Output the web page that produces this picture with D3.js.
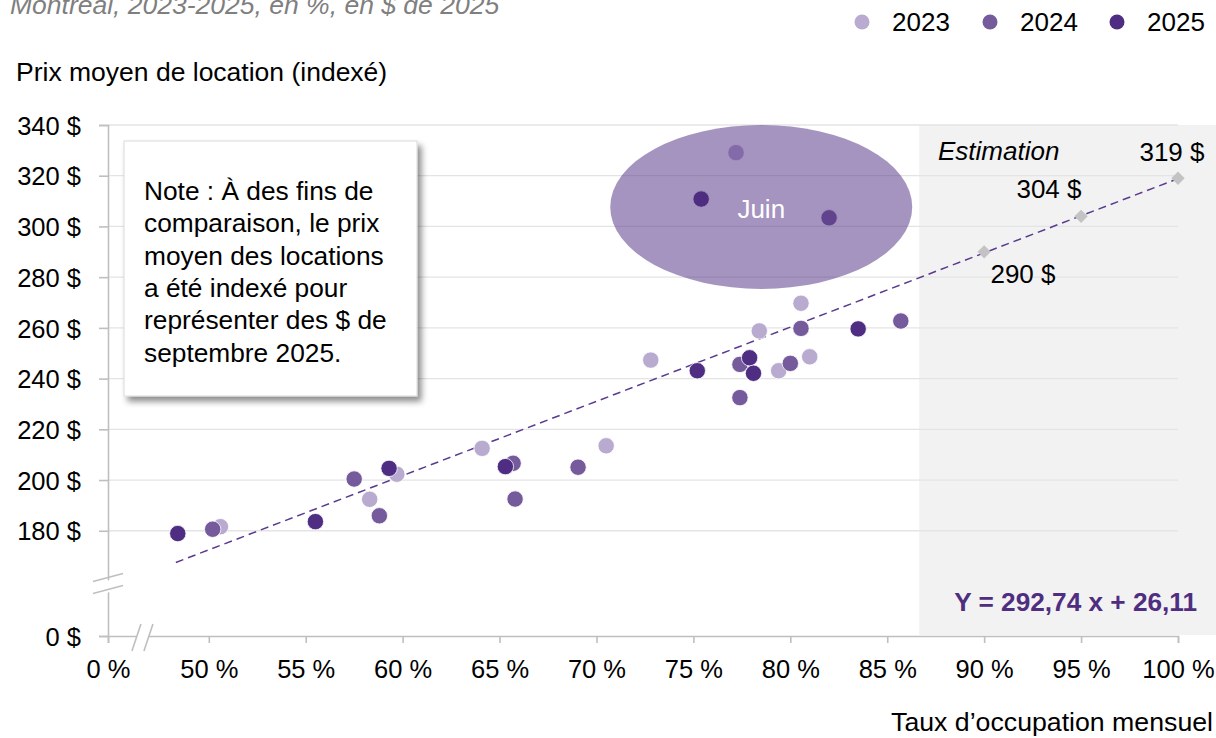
<!DOCTYPE html>
<html>
<head>
<meta charset="utf-8">
<script src="https://cdn.jsdelivr.net/npm/d3@7"></script>
<style>
  body { margin: 0; background: #fff; }
  svg { font-family: "Liberation Sans", Arial, sans-serif; }
</style>
</head>
<body>
<div id="graph"></div>
<script>
// data
const years = ["2023", "2024", "2025"];
const yearColors = ["#b9aad0", "#755a9c", "#4e2d82"];

// taux d'occupation (%) and prix moyen indexé ($), one pair per month
const occ2023 = [50.6, 58.3, 59.7, 64.1, 70.5, 72.8, 78.4, 79.4, 80.55, 81.0, 77.2];
const prix2023 = [181.6, 192.4, 202.3, 212.5, 213.5, 247.3, 258.8, 243.1, 269.7, 248.6, 329.1];
const occ2024 = [50.2, 57.5, 58.8, 65.7, 65.8, 69.05, 77.4, 77.4, 80.0, 80.55, 85.7, 82.0];
const prix2024 = [180.6, 200.4, 185.9, 206.6, 192.5, 205.05, 245.6, 232.5, 246.0, 259.8, 262.7, 303.4];
const occ2025 = [48.4, 55.5, 59.3, 65.3, 75.2, 77.9, 78.1, 83.5, 75.4];
const prix2025 = [178.9, 183.6, 204.6, 205.3, 243.1, 248.2, 242.1, 259.6, 310.8];

// estimations
const estOcc = [90, 95, 100];
const estPrix = [290, 304, 319];

// regression Y = 292,74 x + 26,11
const slope = 292.74, intercept = 26.11;
const lineStart = 0.483;

const xTicks = [0.5, 0.55, 0.6, 0.65, 0.7, 0.75, 0.8, 0.85, 0.9, 0.95, 1.0];
const yTicks = [180, 200, 220, 240, 260, 280, 300, 320, 340];

const noteLines = ["Note : À des fins de", "comparaison, le prix", "moyen des locations",
  "a été indexé pour", "représenter des $ de", "septembre 2025."];

const W = 1216, H = 738;
const svg = d3.select("#graph").append("svg")
  .attr("width", W).attr("height", H);

// scales (axis starts with a break labelled 0)
const xMin = 0.448, yMin = 138.5;
const x = d3.scaleLinear().domain([xMin, 1.0]).range([108, 1178]);
const y = d3.scaleLinear().domain([yMin, 340]).range([636, 125]);

// estimation band
svg.append("rect")
  .attr("x", x(0.8665)).attr("y", y(340))
  .attr("width", W - x(0.8665)).attr("height", y(yMin) - y(340) - 1)
  .attr("fill", "#f2f2f2");

// gridlines
svg.append("g").selectAll("line").data(yTicks).join("line")
  .attr("x1", x(xMin)).attr("x2", x(1.0))
  .attr("y1", d => y(d)).attr("y2", d => y(d))
  .attr("stroke", "#e4e4e4").attr("stroke-width", 1.3);

// axes
const axisColor = "#bfbfbf";
const xAxis = svg.append("g")
  .attr("transform", `translate(0,${y(yMin)})`)
  .call(d3.axisBottom(x).tickValues([xMin].concat(xTicks)).tickSize(7).tickPadding(17)
    .tickFormat(d => d === xMin ? "0 %" : Math.round(d * 100) + " %"));
const yAxis = svg.append("g")
  .attr("transform", `translate(${x(xMin)},0)`)
  .call(d3.axisLeft(y).tickValues([yMin].concat(yTicks)).tickSize(9).tickPadding(18)
    .tickFormat(d => d === yMin ? "0 $" : d + " $"));
[xAxis, yAxis].forEach(a => {
  a.select(".domain").attr("stroke", axisColor).attr("stroke-width", 1.6);
  a.selectAll(".tick line").attr("stroke", axisColor).attr("stroke-width", 1.6);
  a.selectAll(".tick text").attr("fill", "#000").style("font-size", "25.5px")
    .style("font-family", "'Liberation Sans', Arial, sans-serif");
});
yAxis.selectAll(".tick text").attr("dy", "0.36em");

// axis breaks
const bx = x(0.4655), by = y(158);
svg.append("polygon")
  .attr("points", `${bx - 10},${y(yMin) + 15} ${bx - 1},${y(yMin) - 12} ${bx + 11},${y(yMin) - 12} ${bx + 2},${y(yMin) + 15}`)
  .attr("fill", "#fff");
svg.append("polygon")
  .attr("points", `${x(xMin) - 15},${by + 4} ${x(xMin) + 15},${by - 4} ${x(xMin) + 15},${by + 8} ${x(xMin) - 15},${by + 16}`)
  .attr("fill", "#fff").attr("transform", "translate(0,-6)");
[[-10, -1], [2, 11]].forEach(([a, b]) => {
  svg.append("line")
    .attr("x1", bx + a).attr("y1", y(yMin) + 15).attr("x2", bx + b).attr("y2", y(yMin) - 12)
    .attr("stroke", axisColor).attr("stroke-width", 1.6);
});
[-3, 9].forEach(o => {
  svg.append("line")
    .attr("x1", x(xMin) - 15).attr("y1", by + 4 + o - 6).attr("x2", x(xMin) + 15).attr("y2", by - 4 + o - 6)
    .attr("stroke", axisColor).attr("stroke-width", 1.6);
});

// regression line
svg.append("line")
  .attr("x1", x(lineStart)).attr("y1", y(slope * lineStart + intercept))
  .attr("x2", x(1.0)).attr("y2", y(slope + intercept))
  .attr("stroke", "#5a3a90").attr("stroke-width", 1.5)
  .attr("stroke-dasharray", "8,5");

// estimation diamonds
svg.append("g").selectAll("rect").data(estOcc).join("rect")
  .attr("x", -4.7).attr("y", -4.7).attr("width", 9.4).attr("height", 9.4)
  .attr("transform", (d, i) => `translate(${x(d / 100)},${y(estPrix[i])}) rotate(45)`)
  .attr("fill", "#c3c3c3");

// points
const series = [[occ2023, prix2023], [occ2024, prix2024], [occ2025, prix2025]];
series.forEach(([xs, ys], k) => {
  svg.append("g").selectAll("circle").data(xs).join("circle")
    .attr("cx", d => x(d / 100))
    .attr("cy", (d, i) => y(ys[i]))
    .attr("r", 8.2)
    .attr("fill", yearColors[k])
    .attr("stroke", "#fff").attr("stroke-width", 0.8);
});

// June highlight
const juinX = 0.785, juinY = 307.7;
svg.append("ellipse")
  .attr("cx", x(juinX)).attr("cy", y(juinY))
  .attr("rx", 151).attr("ry", 82)
  .attr("fill", "#4f2d81").attr("fill-opacity", 0.51);
svg.append("text").attr("x", x(juinX)).attr("y", y(juinY) + 11)
  .attr("text-anchor", "middle").attr("fill", "#fff").style("font-size", "26px")
  .text("Juin");

// estimation labels
svg.append("text").attr("x", 938).attr("y", 160)
  .style("font-size", "26px").style("font-style", "italic").text("Estimation");
const estLabelPos = [[1023, 283], [1049, 198], [1172, 161]];
estPrix.forEach((p, i) => {
  svg.append("text").attr("x", estLabelPos[i][0]).attr("y", estLabelPos[i][1])
    .attr("text-anchor", "middle").style("font-size", "26px").text(p + " $");
});

// equation
svg.append("text").attr("x", 1197).attr("y", 611)
  .attr("text-anchor", "end").attr("fill", "#4f2d81")
  .style("font-size", "26.2px").style("font-weight", "bold")
  .text("Y = 292,74 x + 26,11");

// note box
const defs = svg.append("defs");
const f = defs.append("filter").attr("id", "shadow").attr("x", "-10%").attr("y", "-10%")
  .attr("width", "130%").attr("height", "130%");
f.append("feDropShadow").attr("dx", 4).attr("dy", 5).attr("stdDeviation", 3)
  .attr("flood-color", "#000").attr("flood-opacity", 0.45);
svg.append("rect").attr("x", 124).attr("y", 141).attr("width", 293).attr("height", 255)
  .attr("fill", "#fff").attr("stroke", "#d9d9d9").attr("stroke-width", 1)
  .attr("filter", "url(#shadow)");
svg.append("text").attr("x", 144).attr("y", 200)
  .style("font-size", "26.3px")
  .selectAll("tspan").data(noteLines).join("tspan")
  .attr("x", 144).attr("dy", (d, i) => i === 0 ? 0 : 32.3)
  .text(d => d);

// titles
svg.append("text").attr("x", 10).attr("y", 14)
  .attr("fill", "#7f7f7f").style("font-size", "26.5px").style("font-style", "italic")
  .text("Montréal, 2023-2025, en %, en $ de 2025");
svg.append("text").attr("x", 16).attr("y", 81)
  .style("font-size", "26.5px").text("Prix moyen de location (indexé)");
svg.append("text").attr("x", 1213).attr("y", 731)
  .attr("text-anchor", "end").style("font-size", "26.7px").text("Taux d’occupation mensuel");

// legend
const legX = [862, 990, 1117];
const leg = svg.append("g").selectAll("g").data(years).join("g")
  .attr("transform", (d, i) => `translate(${legX[i]},22)`);
leg.append("circle").attr("r", 7.5).attr("fill", (d, i) => yearColors[i]);
leg.append("text").attr("x", 30).attr("y", 9).style("font-size", "26px").text(d => d);
</script>
</body>
</html>
